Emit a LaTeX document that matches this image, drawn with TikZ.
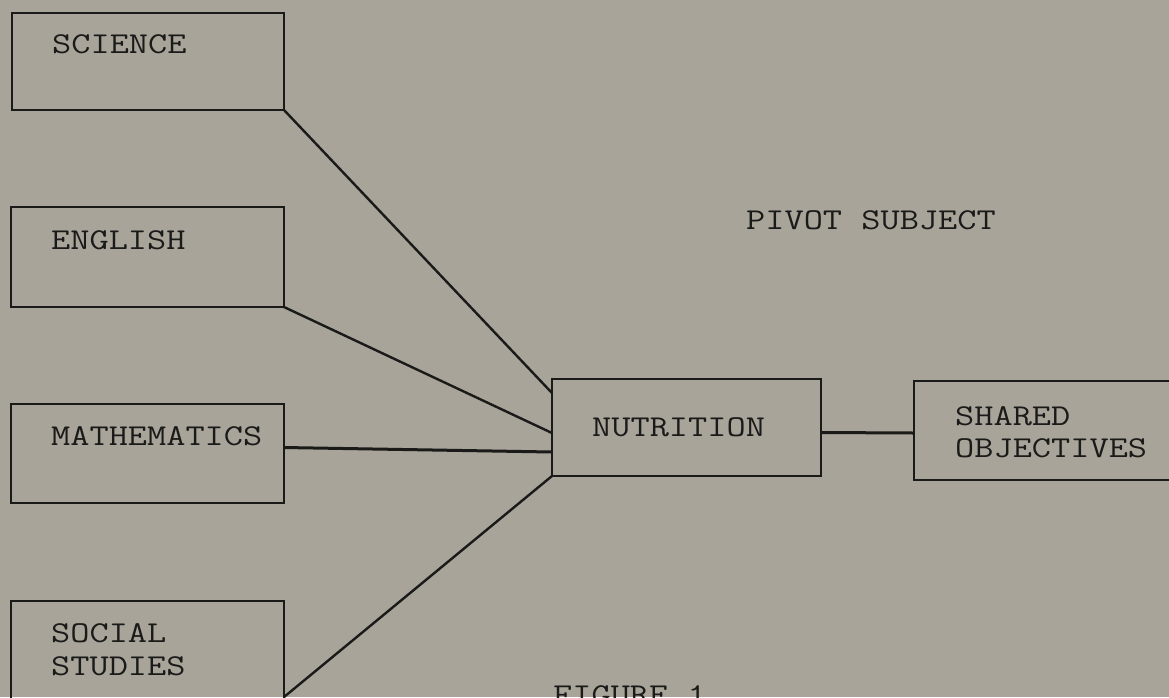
\documentclass[tikz,border=0pt]{standalone}
\usepackage{graphicx}
\definecolor{paper}{RGB}{168,164,154}
\definecolor{ink}{RGB}{26,26,24}
\newcommand{\typed}[1]{\scalebox{1.23}[1]{#1}}
\begin{document}
\begin{tikzpicture}[x=1pt,y=-1pt,
  boxshape/.style={draw=ink, line width=2.2pt, rectangle, inner sep=0pt, outer sep=0pt, anchor=north west},
  txt/.style={text=ink, inner sep=0pt, anchor=base west, font=\ttfamily\fontsize{30.3}{33}\selectfont},
  link/.style={draw=ink, line width=2.4pt}]
\useasboundingbox (0,0) rectangle (1169,697);
\fill[paper] (0,0) rectangle (1169,697);
\clip (0,0) rectangle (1169,697);
% boxes
\node[boxshape, minimum width=272pt, minimum height=97pt] (sci) at (12,13) {};
\node[boxshape, minimum width=273pt, minimum height=100pt] (eng) at (11,207) {};
\node[boxshape, minimum width=273pt, minimum height=99pt] (math) at (11,404) {};
\node[boxshape, minimum width=273pt, minimum height=130pt] (soc) at (11,601) {};
\node[boxshape, minimum width=269pt, minimum height=97pt] (nut) at (552,379) {};
\node[boxshape, minimum width=290pt, minimum height=99pt] (shr) at (914,381) {};
% texts
\node[txt] (tsci) at (52,53) {\typed{SCIENCE}};
\node[txt] (teng) at (51,249) {\typed{ENGLISH}};
\node[txt] (tmath) at (51,445) {\typed{MATHEMATICS}};
\node[txt] (tsoc1) at (51,642) {\typed{SOCIAL}};
\node[txt] (tsoc2) at (51,675) {\typed{STUDIES}};
\node[txt] (tnut) at (592,436) {\typed{NUTRITION}};
\node[txt] (tshr1) at (955,425) {\typed{SHARED}};
\node[txt] (tshr2) at (955,457) {\typed{OBJECTIVES}};
\node[txt] (tpiv) at (746,229) {\typed{PIVOT SUBJECT}};
\node[txt] (tfig) at (553,704) {\typed{FIGURE 1}};
% connectors
\draw[link] (sci.south east) -- ([yshift=-14pt]nut.north west);
\draw[link] (eng.south east) -- ([yshift=-54pt]nut.north west);
\draw[link, line width=3pt] ([yshift=6pt]math.east) -- ([yshift=-73pt]nut.north west);
\draw[link] ([yshift=-96pt]soc.north east) -- (nut.south west);
\draw[link, line width=3pt] ([yshift=-5pt]nut.east) -- ([yshift=-2.5pt]shr.west);
\end{tikzpicture}
\end{document}
